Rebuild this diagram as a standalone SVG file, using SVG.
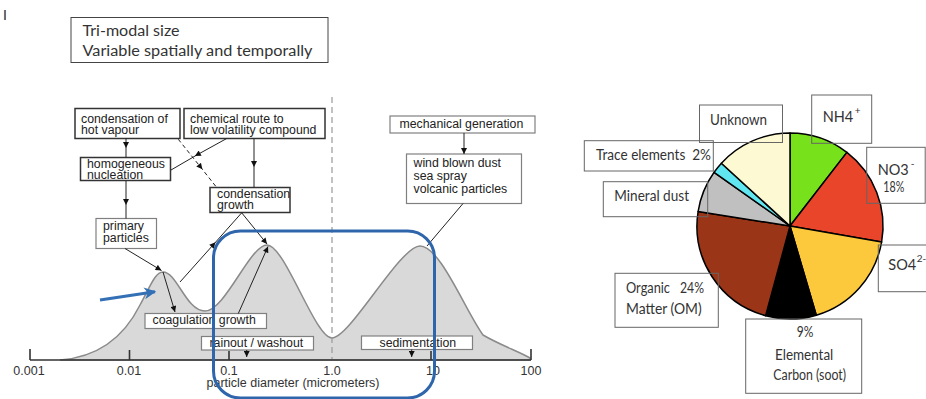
<svg xmlns="http://www.w3.org/2000/svg" width="926" height="399" viewBox="0 0 926 399">
<defs>
<style>
.bx{fill:#fff;stroke:#333;stroke-width:1.5}
.bg{fill:#fff;stroke:#808080;stroke-width:1.2}
.t{font-family:"Liberation Sans",Arial,sans-serif;font-size:12.3px;fill:#222}
.tk{font-family:"Liberation Sans",Arial,sans-serif;font-size:12.5px;fill:#333}
.c{font-family:Lato,"Open Sans",sans-serif;font-size:14.5px;fill:#333}
.sp{font-size:10px}
.lb{fill:none;stroke:#666;stroke-width:1}
.ln{fill:none;stroke:#222;stroke-width:1}
.sl{stroke:#000;stroke-width:1.5;stroke-linejoin:round}
</style>
<marker id="ae" viewBox="0 0 10 10" refX="10" refY="5" markerWidth="7" markerHeight="6" orient="auto" markerUnits="userSpaceOnUse"><path d="M0,0 L10,5 L0,10 z" fill="#111"/></marker>
<marker id="am" viewBox="0 0 10 10" refX="5" refY="5" markerWidth="7" markerHeight="6" orient="auto" markerUnits="userSpaceOnUse"><path d="M0,0 L10,5 L0,10 z" fill="#111"/></marker>
<marker id="ab" viewBox="0 0 10 10" refX="9" refY="5" markerWidth="14" markerHeight="12" orient="auto" markerUnits="userSpaceOnUse"><path d="M0,0 L10,5 L0,10 L3,5 z" fill="#3470b5"/></marker>
</defs>
<rect width="926" height="399" fill="#fff"/>
<text x="3" y="20" font-family="Liberation Sans,Arial,sans-serif" font-size="14" fill="#222">I</text>

<g id="title">
<rect x="71" y="17.5" width="257" height="45" fill="#fff" stroke="#444" stroke-width="1"/>
<text class="c" x="82.5" y="36" font-size="16" textLength="97" lengthAdjust="spacingAndGlyphs">Tri-modal size</text>
<text class="c" x="82.5" y="55.5" font-size="16" textLength="230" lengthAdjust="spacingAndGlyphs">Variable spatially and temporally</text>
</g>

<g id="chart">
<path d="M60,360 C100,357 125,335 140,305 C150,287 155,272 163,272 C177,272 186,311 205,311 C225,311 250,245 267,245 C285,245 315,338 332,338 C350,338 400,246 420,246 C440,246 465,310 483,335 C500,345 520,352 530,358 L530,360 Z" fill="#d9d9d9" stroke="#8a8a8a" stroke-width="1.5"/>
<line x1="332" y1="97" x2="332" y2="360" stroke="#999" stroke-width="1.2" stroke-dasharray="6,4"/>
<path d="M30,360 H531 M30,349 V360 M129.5,350 V360 M229,351 V360 M431,351 V360 M531,349 V360" fill="none" stroke="#333" stroke-width="1.6"/>
<text class="tk" x="29" y="374.5" text-anchor="middle">0.001</text>
<text class="tk" x="129" y="374.5" text-anchor="middle">0.01</text>
<text class="tk" x="229" y="374.5" text-anchor="middle">0.1</text>
<text class="tk" x="332" y="374.5" text-anchor="middle">1.0</text>
<text class="tk" x="433" y="374.5" text-anchor="middle">10</text>
<text class="tk" x="531" y="374.5" text-anchor="middle">100</text>
<text class="tk" x="293" y="387" text-anchor="middle">particle diameter (micrometers)</text>
</g>

<g id="hot-vapour"><rect class="bx" x="75" y="108.5" width="105" height="30"/><text class="t" x="81" y="122.5">condensation of</text><text class="t" x="81" y="133.5">hot vapour</text></g>
<g id="chemical-route"><rect class="bx" x="184" y="108.5" width="141" height="30"/><text class="t" x="190" y="122.5">chemical route to</text><text class="t" x="190" y="133.5">low volatility compound</text></g>
<g id="homogeneous-nucleation"><rect class="bx" x="80.5" y="157.5" width="90" height="23"/><text class="t" x="87" y="167.8">homogeneous</text><text class="t" x="87" y="179">nucleation</text></g>
<g id="condensation-growth"><rect class="bx" x="210" y="187.5" width="80" height="25"/><text class="t" x="217" y="197.7">condensation</text><text class="t" x="217" y="208.7">growth</text></g>
<g id="primary-particles"><rect class="bg" x="96" y="218.5" width="60.5" height="30"/><text class="t" x="103" y="229.5">primary</text><text class="t" x="103" y="242">particles</text></g>
<g id="mechanical-generation"><rect class="bg" x="390" y="116" width="145" height="17"/><text class="t" x="399.5" y="127.5">mechanical generation</text></g>
<g id="wind-blown"><rect class="bg" x="406.5" y="154" width="115" height="49.5"/><text class="t" x="413.5" y="167">wind blown dust</text><text class="t" x="413.5" y="180">sea spray</text><text class="t" x="413.5" y="193">volcanic  particles</text></g>
<g id="coagulation-growth"><rect class="bg" x="145" y="313.5" width="121.5" height="15"/><text class="t" x="152.5" y="324">coagulation  growth</text></g>
<g id="rainout-washout"><rect class="bg" x="201.5" y="336.5" width="112" height="13.5"/><text class="t" x="209.5" y="347">rainout / washout</text></g>
<g id="sedimentation"><rect class="bg" x="361.5" y="336" width="111" height="13.5"/><text class="t" x="379.5" y="347">sedimentation</text></g>

<g id="connectors">
<path class="ln" d="M126,138.5 L126,145 L126,157.5" marker-mid="url(#am)"/>
<path class="ln" d="M126,181 L126,202 L126,218.5" marker-mid="url(#am)"/>
<path class="ln" d="M226.7,138.5 L197.5,154.6 L171,170" marker-mid="url(#am)"/>
<path class="ln" d="M178.3,139.3 L200.5,167 L216.7,187.5" stroke-dasharray="4,3" marker-mid="url(#am)"/>
<path class="ln" d="M254,138.5 L254,164 L254,187.5" marker-mid="url(#am)"/>
<path class="ln" d="M464,133 L464,154" marker-end="url(#ae)"/>
<path class="ln" d="M463,203.5 L427,246"/>
<path class="ln" d="M125,248.5 L161.5,270.5" marker-end="url(#ae)"/>
<path class="ln" d="M163,272 L175,312" marker-end="url(#ae)"/>
<path class="ln" d="M180,282 L213.5,244.5 L241.7,212.8" marker-mid="url(#am)"/>
<path class="ln" d="M241.7,212.8 L267,244" marker-end="url(#ae)"/>
<path class="ln" d="M238.3,313.5 L268,246.5" marker-end="url(#ae)"/>
<path class="ln" d="M246.7,350 L246.7,357" marker-end="url(#ae)"/>
<path class="ln" d="M411.7,349.5 L411.7,357" marker-end="url(#ae)"/>
<path d="M100,300 L155,291.7" fill="none" stroke="#3470b5" stroke-width="3" marker-end="url(#ab)"/>
<rect x="213.5" y="231" width="221" height="167" rx="27" ry="27" fill="none" stroke="#2f66ab" stroke-width="3"/>
</g>

<g id="pie">
<path class="sl" fill="#77e11b" d="M790,226 L790,133 A93,93 0 0 1 846.9,152.4 Z"/>
<path class="sl" fill="#e8452b" d="M790,226 L846.9,152.4 A93,93 0 0 1 881.6,242.1 Z"/>
<path class="sl" fill="#fcc93c" d="M790,226 L881.6,242.1 A93,93 0 0 1 816.3,315.2 Z"/>
<path class="sl" fill="#000" d="M790,226 L816.3,315.2 A93,93 0 0 1 765.6,315.7 Z"/>
<path class="sl" fill="#9b3518" d="M790,226 L765.6,315.7 A93,93 0 0 1 698.1,211.5 Z"/>
<path class="sl" fill="#c0c0c0" d="M790,226 L698.1,211.5 A93,93 0 0 1 714.1,172.3 Z"/>
<path class="sl" fill="#5fe6f0" d="M790,226 L714.1,172.3 A93,93 0 0 1 721.4,163.2 Z"/>
<path class="sl" fill="#fdf9d2" d="M790,226 L721.4,163.2 A93,93 0 0 1 790,133 Z"/>
</g>

<g id="label-unknown"><rect class="lb" x="699.5" y="105" width="83" height="37.5"/><text class="c" x="710" y="125" textLength="57" lengthAdjust="spacingAndGlyphs">Unknown</text></g>
<g id="label-nh4"><rect class="lb" x="811.7" y="95" width="60" height="48.3"/><text class="c" x="822.7" y="122.3">NH4<tspan class="sp" dx="1.5" dy="-8">+</tspan></text></g>
<g id="label-no3"><rect class="lb" x="866.7" y="147.3" width="58.5" height="56"/><text class="c" x="877.7" y="175">NO3<tspan class="sp" dx="2" dy="-8">-</tspan></text><text class="c" x="883.3" y="192" textLength="21" lengthAdjust="spacingAndGlyphs">18%</text></g>
<g id="label-so4"><rect class="lb" x="878.3" y="245" width="50" height="46.7"/><text class="c" x="888.3" y="270">SO4<tspan class="sp" dx="0.5" dy="-8">2-</tspan></text></g>
<g id="label-trace"><rect class="lb" x="584.3" y="140.7" width="129" height="30.3"/><text class="c" x="596" y="160" textLength="115" lengthAdjust="spacingAndGlyphs" xml:space="preserve">Trace elements  2%</text></g>
<g id="label-mineral"><rect class="lb" x="603.3" y="181.7" width="104.4" height="35"/><text class="c" x="614.3" y="201" textLength="74.7" lengthAdjust="spacingAndGlyphs">Mineral dust</text></g>
<g id="label-om"><rect class="lb" x="615" y="273.3" width="103.3" height="54"/><text class="c" x="626" y="293.3" textLength="44" lengthAdjust="spacingAndGlyphs">Organic</text><text class="c" x="680" y="293.3" textLength="24" lengthAdjust="spacingAndGlyphs">24%</text><text class="c" x="626" y="314" textLength="75.7" lengthAdjust="spacingAndGlyphs">Matter (OM)</text></g>
<g id="label-ec"><rect class="lb" x="745.7" y="319" width="116" height="74.3"/><text class="c" x="796.7" y="336.7" textLength="16.6" lengthAdjust="spacingAndGlyphs">9%</text><text class="c" x="775" y="360" textLength="58.3" lengthAdjust="spacingAndGlyphs">Elemental</text><text class="c" x="773.3" y="380" textLength="72.7" lengthAdjust="spacingAndGlyphs">Carbon (soot)</text></g>
</svg>
